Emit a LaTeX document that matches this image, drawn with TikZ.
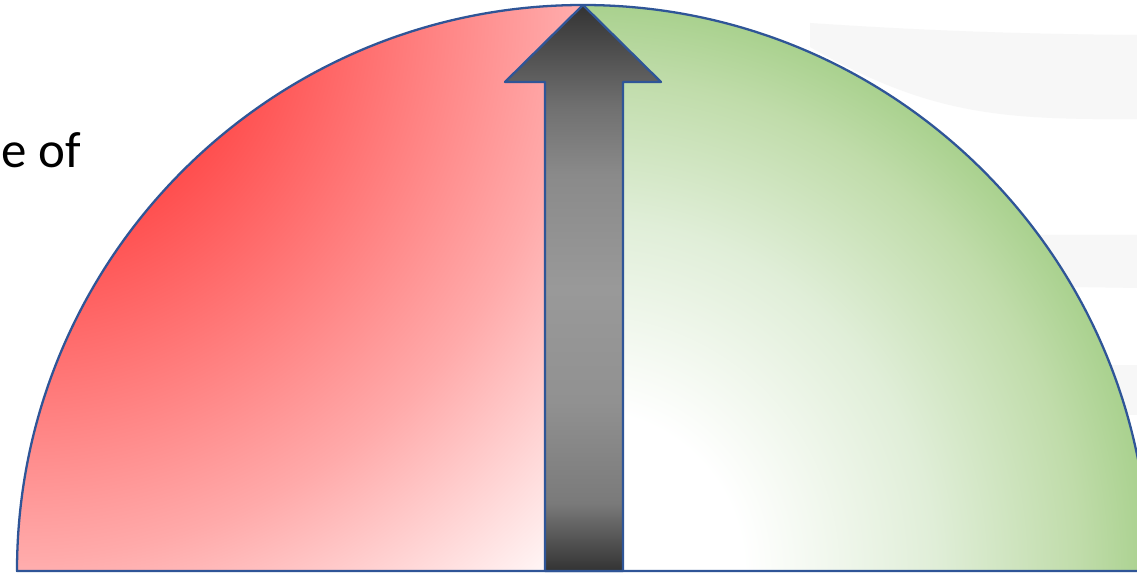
\documentclass[tikz,border=0pt]{standalone}
\usepackage{fontspec}
\setmainfont{Carlito}
\definecolor{rimblue}{RGB}{47,85,151}
\definecolor{bandgray}{RGB}{247,247,247}
\definecolor{redB}{RGB}{255,170,170}
\definecolor{redD}{RGB}{255,78,78}
\definecolor{grnA}{RGB}{224,238,216}
\definecolor{grnB}{RGB}{192,220,170}
\definecolor{grnD}{RGB}{169,209,142}
\definecolor{grayA}{RGB}{51,51,51}
\definecolor{grayB}{RGB}{122,122,122}
\definecolor{grayC}{RGB}{145,145,145}
\definecolor{grayD}{RGB}{153,153,153}
\definecolor{grayE}{RGB}{138,138,138}
\definecolor{grayF}{RGB}{112,112,112}
% radius 800 of the glow circle = 25bp
\pgfdeclareradialshading{redglow}{\pgfpoint{0bp}{0bp}}{color(0bp)=(redD); color(7.3bp)=(redD);
  color(17.3bp)=(redB); color(25bp)=(white); color(50bp)=(white)}
\pgfdeclareradialshading{grnglow}{\pgfpoint{0bp}{0bp}}{color(0bp)=(white); color(5bp)=(white);
  color(11bp)=(grnA); color(15.5bp)=(grnB); color(17.7bp)=(grnD); color(50bp)=(grnD)}
\pgfdeclareverticalshading{arrowfade}{100bp}{color(0bp)=(grayA); color(25bp)=(grayA);
  color(31bp)=(grayB); color(40bp)=(grayC); color(50bp)=(grayD); color(60bp)=(grayE);
  color(66bp)=(grayF); color(75bp)=(grayA); color(100bp)=(grayA)}
\tikzset{rim/.style={draw=rimblue,line width=1.3pt,line join=round}}
\begin{document}
\begin{tikzpicture}[x=0.02cm,y=0.02cm]
        \useasboundingbox (0,0) rectangle (1137,575);
        \clip (0,0) rectangle (1137,575);
        \fill[white] (0,0) rectangle (1137,575);
        % faint bands behind
        \fill[bandgray] (810,552) .. controls (900,546) and (1000,541) .. (1140,540)
              -- (1140,456) .. controls (1000,455) and (930,460) .. (810,528) -- cycle;
        \fill[bandgray] (1000,340) -- (1140,340) -- (1140,287) -- (1000,289) -- cycle;
        \fill[bandgray] (1050,210) -- (1140,210) -- (1140,160) -- (1050,160) -- cycle;
        \node[anchor=base east,inner sep=0pt,font=\fontsize{29}{34}\selectfont] (lbl) at (81,407) {e of};
        % red half, glow from top left corner
        \begin{scope}
          \clip (583,4) -- (17,4) arc[start angle=180,end angle=90,radius=566] -- cycle;
          \shade[shading=redglow] (17,570) circle[radius=800];
        \end{scope}
        % green half, white from bottom left corner
        \begin{scope}
          \clip (583,4) -- (583,570) arc[start angle=90,end angle=0,radius=566] -- cycle;
          \shade[shading=grnglow] (583,4) circle[radius=800];
        \end{scope}
        \draw[rim] (17,4) arc[start angle=180,end angle=0,radius=566] -- cycle;
        % pointer
        \shadedraw[rim,shading=arrowfade] (545,4) -- (545,493) -- (505,493) -- (583,570)
              -- (661,493) -- (623,493) -- (623,4) -- cycle;
    \end{tikzpicture}
\end{document}
